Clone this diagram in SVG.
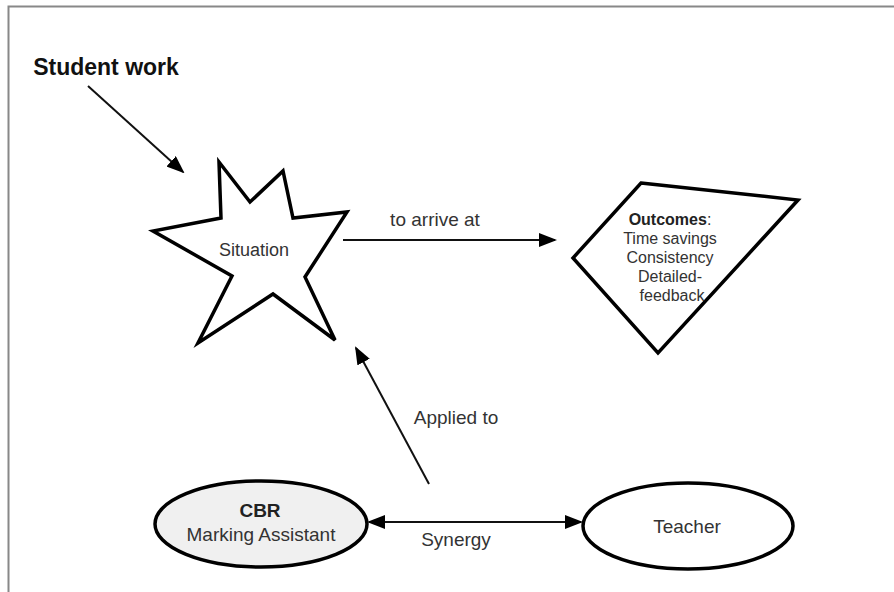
<svg xmlns="http://www.w3.org/2000/svg" width="894" height="592" viewBox="0 0 894 592">
<style>
.shape{fill:#fff;stroke:#000;stroke-width:3.5;stroke-linejoin:miter}
.conn{stroke:#111;stroke-width:2;fill:none}
.t{font-family:"Liberation Sans",Arial,sans-serif;fill:#333;text-anchor:middle}
.lbl{font-size:19px}
.b{font-weight:bold}
</style>
<defs>
<marker id="ah" markerUnits="userSpaceOnUse" markerWidth="18" markerHeight="14" refX="16" refY="7" orient="auto-start-reverse" viewBox="0 0 18 14">
<path d="M0,0 L18,7 L0,14 Z" fill="#000"/>
</marker>
</defs>
<rect width="894" height="592" fill="#fff"/>
<path d="M8.5,592 V6.5 H894" fill="none" stroke="#888" stroke-width="2"/>
<g id="student-work">
<text class="t b" x="106" y="75" font-size="23" style="fill:#111">Student work</text>
</g>
<g id="situation">
<polygon class="shape" points="219,162 250,202 283,171 293,218 347,212 305,277 335,340 273,294 198,343 232,276 153,231 221,218"/>
<text class="t" x="254" y="256" font-size="18">Situation</text>
</g>
<g id="outcomes">
<polygon class="shape" points="641,183 798,200 658,353 573,258"/>
<text class="t" font-size="16"><tspan x="670" y="225"><tspan class="b" style="fill:#222">Outcomes</tspan>:</tspan><tspan x="670" y="244">Time savings</tspan><tspan x="670" y="263">Consistency</tspan><tspan x="670" y="282">Detailed-</tspan><tspan x="672" y="301">feedback</tspan></text>
</g>
<g id="cbr">
<ellipse class="shape" cx="261" cy="524" rx="106" ry="43" style="fill:#f0f0f0"/>
<text class="t b" x="260" y="517" font-size="19" style="fill:#222">CBR</text>
<text class="t lbl" x="261" y="541">Marking Assistant</text>
</g>
<g id="teacher">
<ellipse class="shape" cx="688" cy="526" rx="105" ry="43"/>
<text class="t lbl" x="687" y="533">Teacher</text>
</g>
<g id="connectors">
<line class="conn" x1="88" y1="86" x2="183" y2="172" marker-end="url(#ah)"/>
<line class="conn" x1="343" y1="240" x2="555" y2="240" marker-end="url(#ah)"/>
<line class="conn" x1="429" y1="484" x2="356" y2="348" marker-end="url(#ah)"/>
<line class="conn" x1="369" y1="522" x2="581" y2="522" marker-start="url(#ah)" marker-end="url(#ah)"/>
<text class="t lbl" x="435" y="226">to arrive at</text>
<text class="t lbl" x="456" y="424">Applied to</text>
<text class="t lbl" x="456" y="546">Synergy</text>
</g>
</svg>
